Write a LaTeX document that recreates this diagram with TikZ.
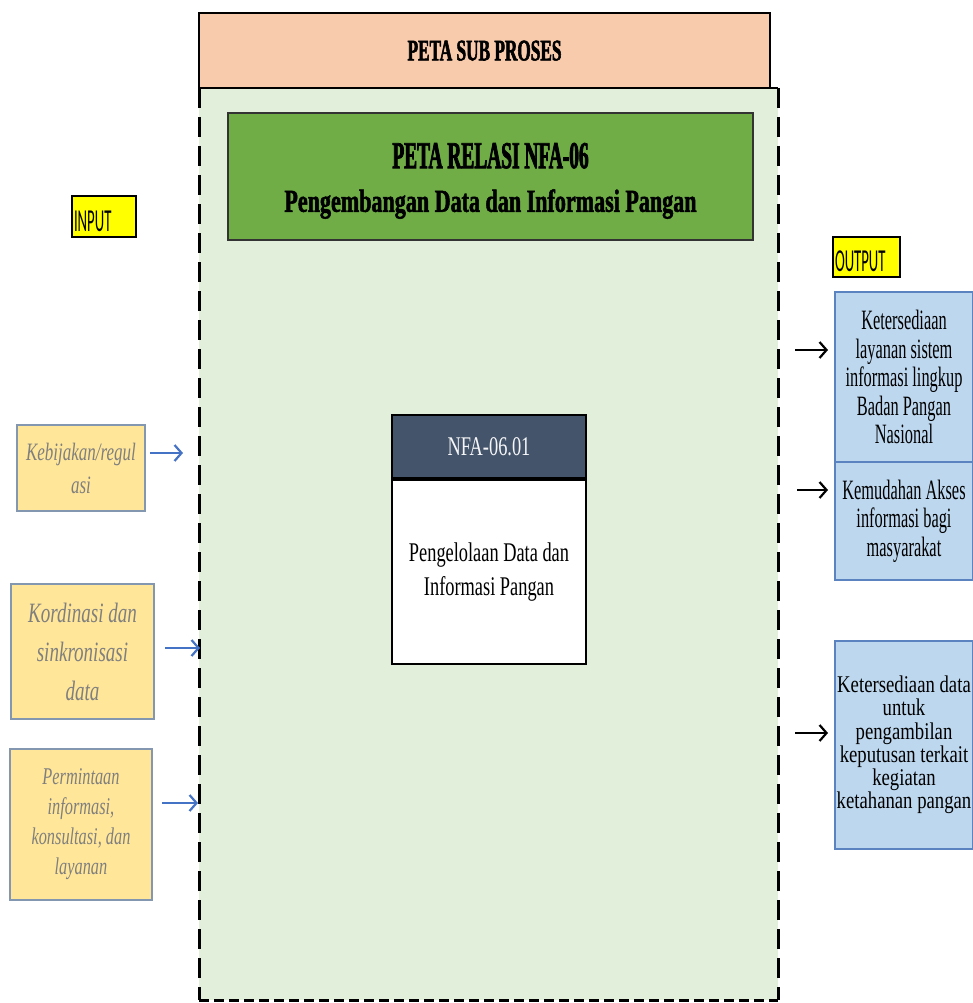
\documentclass[tikz,border=0pt]{standalone}
\usepackage{fontspec}
\usetikzlibrary{arrows.meta,calc}
\setmainfont{Liberation Serif}
% condensed serif cuts for titles, boxes and labels
\newfontfamily\titlecapsfont[FakeStretch=0.51,FakeBold=2]{Liberation Serif}
\newfontfamily\subcapsfont[FakeStretch=0.575,FakeBold=1.8]{Liberation Serif}
\newfontfamily\subtitlefont[FakeStretch=0.69,FakeBold=1.6]{Liberation Serif}
\newfontfamily\bodyfont[FakeStretch=0.68]{Liberation Serif}
\newfontfamily\outfont[FakeStretch=0.585]{Liberation Serif}
\newfontfamily\outwidefont[FakeStretch=0.78]{Liberation Serif}
\newfontfamily\infont[FakeStretch=0.68]{Liberation Serif}
\newfontfamily\tagfont[FakeStretch=0.46]{Carlito}
\definecolor{peach}{HTML}{F8CBAD}
\definecolor{palegreen}{HTML}{E2EFDA}
\definecolor{leafgreen}{HTML}{70AD47}
\definecolor{slate}{HTML}{44546A}
\definecolor{sand}{HTML}{FFE699}
\definecolor{sandedge}{HTML}{8497B0}
\definecolor{sky}{HTML}{BDD7EE}
\definecolor{skyedge}{HTML}{5B83C0}
\definecolor{arrowblue}{HTML}{4472C4}
\definecolor{tagyellow}{HTML}{FFFF00}
\definecolor{softgray}{HTML}{7F7F7F}
\tikzset{
  box/.style={rectangle, inner sep=0pt, outer sep=0pt, align=center},
  tagbox/.style={box, fill=tagyellow, draw=black, line width=1.6pt, font=\tagfont\fontsize{32}{32}\selectfont, anchor=north west},
  inbox/.style={box, fill=sand, draw=sandedge, line width=1.5pt, text=softgray},
  outbox/.style={box, fill=sky, draw=skyedge, line width=1.4pt},
  inarrow/.style={draw=arrowblue, line width=2.2pt, -{Straight Barb[length=7pt,width=16pt,line width=2.2pt]}},
  outarrow/.style={draw=black, line width=2.2pt, -{Straight Barb[length=7pt,width=16pt,line width=2.2pt]}},
  dashv/.style={line width=3pt, dash pattern=on 20pt off 9pt},
  dashh/.style={line width=3pt, dash pattern=on 10pt off 5pt}
}
\begin{document}
\begin{tikzpicture}[x=1pt,y=-1pt]
\useasboundingbox (0,0) rectangle (973,1003);

% sub-process area
\fill[palegreen] (199,88) rectangle (778,1000);
\draw[dashv] (199,88) -- (199,1000);
\draw[dashv] (778,88) -- (778,1000);
\draw[dashh] (199,1000) -- (778,1000);

% header band
\node[box, fill=peach, draw=black, line width=2pt, minimum width=571pt, minimum height=75pt,
      font=\subcapsfont\bfseries\fontsize{30}{30}\selectfont, text depth=0pt] (sub) at (484.5,50.5) {PETA SUB PROSES};
\coordinate (subend) at (778,88);
\draw[line width=2pt] (sub.south east) -- (subend);

% relation map title
\node[box, fill=leafgreen, draw=black!80, line width=2pt, minimum width=525pt, minimum height=127pt] (title) at (490.5,176.5) {};
\node[box, font=\titlecapsfont\bfseries\fontsize{38}{38}\selectfont, text depth=0pt] (titleA) at ($(title.center)+(0,-21)$) {PETA RELASI NFA-06};
\node[box, font=\subtitlefont\bfseries\fontsize{32}{32}\selectfont, text depth=0pt] (titleB) at ($(title.center)+(0,24)$) {Pengembangan Data dan Informasi Pangan};

% INPUT / OUTPUT tags
\node[tagbox, minimum width=64pt, minimum height=41pt, text width=62pt, align=left, text height=34pt, text depth=4pt] (intag) at (72,196) {\hspace{1pt}INPUT};
\node[tagbox, minimum width=67pt, minimum height=40pt, text width=65pt, align=left, text height=33pt, text depth=4pt] (outtag) at (833,237) {\hspace{1pt}OUTPUT};

% process box
\node[box, fill=slate, draw=black, line width=2pt, minimum width=194pt, minimum height=63pt, text=white!95!slate,
      font=\bodyfont\fontsize{27}{27}\selectfont] (phead) at (489,446.5) {NFA-06.01};
\node[box, fill=white, draw=black, line width=2pt, minimum width=194pt, minimum height=184pt,
      font=\bodyfont\fontsize{27}{34}\selectfont] (pbody) at (489,572) {Pengelolaan Data dan\\Informasi Pangan};

% inputs
\node[inbox, minimum width=128pt, minimum height=86pt, font=\infont\itshape\fontsize{25}{33}\selectfont] (in1) at (81,468) {Kebijakan/regul\\asi};
\node[inbox, minimum width=143pt, minimum height=135pt, font=\infont\itshape\fontsize{28}{39}\selectfont] (in2) at (82.5,651.5) {Kordinasi dan\\sinkronisasi\\data};
\node[inbox, minimum width=142pt, minimum height=151pt, font=\infont\itshape\fontsize{24}{30}\selectfont] (in3) at (81,824.5) {Permintaan\\informasi,\\konsultasi, dan\\layanan};

\coordinate (a1) at (183,453);
\coordinate (a2) at (200,648);
\coordinate (a3) at (198,803);
\draw[inarrow] ($(in1.east|-a1)+(5,0)$) -- (a1);
\draw[inarrow] ($(in2.east|-a2)+(11,0)$) -- (a2);
\draw[inarrow] ($(in3.east|-a3)+(10,0)$) -- (a3);

% outputs
\node[outbox, minimum width=138pt, minimum height=170pt, font=\outfont\fontsize{28}{28.5}\selectfont] (out1) at (904,377) {Ketersediaan\\layanan sistem\\informasi lingkup\\Badan Pangan\\Nasional};
\node[outbox, minimum width=138pt, minimum height=118pt, font=\outfont\fontsize{28}{28.5}\selectfont] (out2) at (904,521) {Kemudahan Akses\\informasi bagi\\masyarakat};
\node[outbox, minimum width=138pt, minimum height=208pt, font=\outwidefont\fontsize{24}{23.3}\selectfont] (out3) at (904,745) {Ketersediaan data\\untuk\\pengambilan\\keputusan terkait\\kegiatan\\ketahanan pangan};

\coordinate (b1) at (795,350);
\coordinate (b2) at (797,490);
\coordinate (b3) at (795,733);
\draw[outarrow] (b1) -- ($(out1.west|-b1)+(-7,0)$);
\draw[outarrow] (b2) -- ($(out2.west|-b2)+(-7,0)$);
\draw[outarrow] (b3) -- ($(out3.west|-b3)+(-7,0)$);
\end{tikzpicture}
\end{document}
